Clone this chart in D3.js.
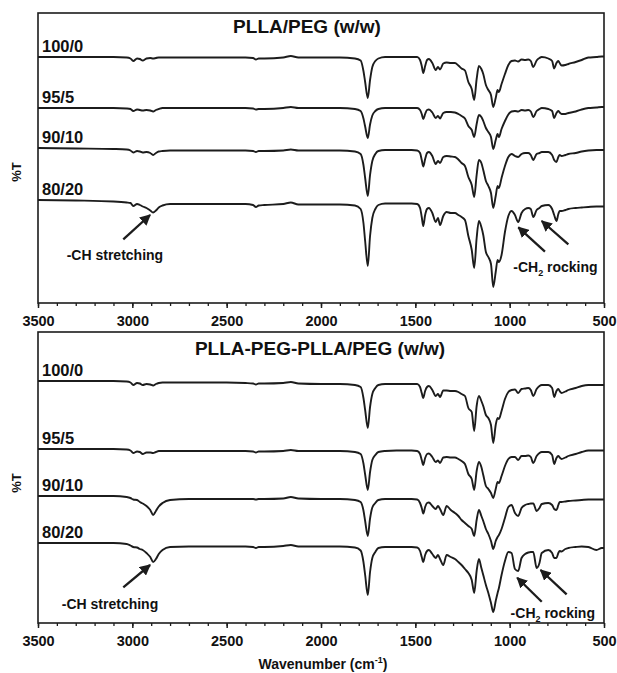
<!DOCTYPE html>
<html>
<head>
<meta charset="utf-8">
<script src="https://cdn.jsdelivr.net/npm/d3@7"></script>
<style>
  body { margin: 0; background: #fff; }
  svg { display: block; }
  text { font-family: "Liberation Sans", Arial, sans-serif; font-weight: bold; fill: #111; }
</style>
</head>
<body>
<svg id="chart" width="617" height="673"></svg>
<script>
// Wavenumber grid (cm-1) shared by every spectrum
const wavenumbers = [
  3500, 3300, 3100, 3030, 3010, 2995, 2975, 2960, 2945, 2925,
  2905, 2890, 2875, 2860, 2840, 2800, 2700, 2500, 2400, 2360,
  2345, 2330, 2300, 2200, 2160, 2120, 2000, 1900, 1820, 1790,
  1775, 1766, 1752, 1740, 1728, 1712, 1696, 1660, 1600, 1520,
  1490, 1475, 1466, 1458, 1448, 1438, 1428, 1410, 1392, 1380,
  1369, 1352, 1334, 1312, 1290, 1272, 1255, 1237, 1219, 1201,
  1188, 1175, 1163, 1150, 1140, 1126, 1113, 1099, 1087, 1074,
  1064, 1057, 1043, 1025, 1007, 990, 972, 955, 937, 918,
  901, 888, 875, 857, 842, 830, 795, 775, 764, 752,
  742, 735, 725, 705, 689, 650, 618, 583, 540, 512,
  500
];

// Relative transmittance (change from each trace's own baseline)
// PLLA/PEG blends
const pllaPeg_100_0 = [
  0, 0, 0, -0.5, -1.5, -4, -1.5, -2, -3.5, -1.5,
  -1, -1.5, -1, -0.5, -0.5, -0.5, -0.5, -0.5, -0.5, -1,
  -2.5, -1.5, -1.5, -0.5, 1, -0.5, -0.5, -0.5, -1.5, -3.5,
  -14, -25, -41, -23, -10, -4, -1.5, 0, 0, 0,
  0, -3, -9, -16, -9, -3, -2, -6, -13, -10,
  -12.5, -6.5, -5.5, -6, -6, -8.5, -11.5, -13.5, -25, -32,
  -43, -22, -9, -12, -17, -28, -33, -38, -50, -41,
  -33, -35, -27, -17, -8, -4, -3.5, -4.5, -2.5, -3,
  -2.5, -4, -10, -3.5, -1, 0, -1.5, -4, -11.5, -6,
  -4, -6, -8.5, -8, -7, -5, -3, -0.5, 0, 0.5,
  0.5
];
const pllaPeg_95_5 = [
  0, 0, 0, -0.5, -1, -3, -1.5, -2, -2.5, -2,
  -2.5, -3.5, -2, -1, 0, 0, 0, 0, 0, -0.5,
  -1.5, -1, -1, 0, 1, 0, 0, 0, -1, -3,
  -10.5, -18.5, -30, -16.5, -7.5, -3, -1, 0, 0, 0,
  0, -2, -6, -11, -6, -2, -1.5, -4.5, -10, -8,
  -10.5, -5, -4, -4, -4.5, -6, -8, -10.5, -18, -22,
  -29, -16, -7, -9, -13, -20, -24, -29, -41, -32,
  -26, -29, -21, -13, -6.5, -3.5, -3, -3.5, -2, -2.5,
  -2, -3.5, -9, -3, -1, 0, -1, -3, -10, -5,
  -3, -4.5, -6, -6, -5, -3.5, -1.5, 0, 0.5, 1,
  1
];
const pllaPeg_90_10 = [
  0, -0.5, -1, -1.5, -2.5, -4.5, -3, -3.5, -4.5, -4,
  -5, -7, -5, -3.5, -3, -2.5, -2.5, -2.5, -2.5, -3,
  -4, -3, -3, -2.5, -1.5, -2.5, -2.5, -2.5, -3.5, -6,
  -17, -30, -48, -27, -13, -6, -3, -2, -2, -2,
  -2.5, -5, -12, -18.5, -11, -5, -4, -8, -16, -13,
  -15, -9, -8, -8.5, -9, -11.5, -15, -18, -29, -37,
  -49, -27, -12, -15, -22, -33, -38, -45, -60, -48,
  -38, -40, -30, -18, -9, -6, -8, -9, -6, -5,
  -5, -7, -12, -6, -5, -4, -4, -7, -12, -14,
  -9, -7, -8, -7, -6, -5, -3.5, -2.5, -2, -2,
  -2
];
const pllaPeg_80_20 = [
  0, -0.5, -1.5, -2.5, -3, -6, -4, -5, -6.5, -8,
  -10.5, -12.5, -10.5, -7.5, -5.5, -4, -4, -4, -4, -5,
  -7, -5.5, -5, -4, -2.5, -4.5, -4.5, -4.5, -5.5, -9,
  -23, -41, -66, -36, -18, -9, -5, -3.5, -3.5, -3.5,
  -4, -8, -17, -26, -15, -9, -8, -13, -22, -18,
  -25, -16, -12, -13, -13, -15, -17, -20, -36, -50,
  -68, -38, -21, -27, -35, -52, -57, -64, -87, -72,
  -60, -62, -55, -32, -16, -11, -15, -22, -13, -9,
  -8, -9, -17, -10, -8, -6, -5, -9, -15, -21,
  -14, -11, -11, -10, -9, -8, -7.5, -7, -6.5, -6.5,
  -6.5
];

// PLLA-PEG-PLLA/PEG blends
const triPeg_100_0 = [
  0, 0, 0, -0.5, -1.5, -4, -2, -2.5, -4, -3,
  -3.5, -4.5, -3, -2, -1.5, -1.5, -1.5, -1.5, -2, -2.5,
  -3.5, -2.5, -2.5, -2, -1, -2.5, -3, -3, -4, -6,
  -17, -29, -47, -26, -13, -7, -4, -3, -3, -3,
  -3, -6, -12, -17, -10, -6, -5, -9, -15, -13,
  -16, -9.5, -9.5, -10, -10, -11, -13, -15, -27, -31,
  -50, -25, -15, -20, -25, -34, -37, -44, -62, -44,
  -37, -38, -30, -18, -11, -9, -8.5, -12, -8, -7.5,
  -7, -9, -15, -8, -5, -4, -4, -7, -16, -10,
  -8, -10, -12, -10.5, -9, -7, -5, -4, -4, -4,
  -4
];
const triPeg_95_5 = [
  0, 0, 0, -0.5, -1.5, -4, -2.5, -3, -5, -3.5,
  -3.5, -4, -3, -2, -2, -2, -2, -2, -2, -2.5,
  -3.5, -2.5, -2.5, -2, -1, -2, -2, -2, -3, -5,
  -14.5, -25.5, -41, -23, -11, -6, -3, -2, -1.5, -1.5,
  -2, -5, -11, -16, -9, -5, -4.5, -8, -13, -11.5,
  -14, -8.5, -8, -8.5, -8.5, -10, -12, -15, -25, -30,
  -41, -22, -13, -18, -26, -37, -40, -44, -49, -40,
  -33, -34, -27, -17, -10, -8, -8, -11, -7, -7,
  -6.5, -8, -14, -7, -4, -3, -3, -6, -15, -9,
  -7, -8.5, -10, -8.5, -7, -5, -3, -1.5, -1.5, -1.5,
  -1.5
];
const triPeg_90_10 = [
  0, 0, 0, -1, -2, -3.5, -4, -6, -7.5, -10,
  -14, -19, -15, -10.5, -7, -4, -3, -3, -3, -3,
  -3.5, -3, -3, -2.5, -1, -2.5, -3, -3, -4, -6,
  -14.5, -25, -40, -22.5, -11.5, -7, -4, -3, -3, -3,
  -3.5, -7, -12, -17.5, -11, -7, -6.5, -10, -13, -10,
  -13, -19, -10, -14, -17, -20, -24, -27, -30, -33,
  -40, -24, -14, -20, -25, -33, -38, -45, -53, -45,
  -41, -39, -33, -22, -11, -9, -17, -20, -12, -9,
  -8, -7.5, -7.5, -15, -12, -8, -7, -9, -13, -14,
  -9, -6, -6, -5.5, -5, -4.5, -4, -3.5, -3.5, -3.5,
  -3.5
];
const triPeg_80_20 = [
  0, 0, 0, -1, -2.5, -4, -4.5, -6, -7, -10,
  -14, -19, -16, -11, -7, -4, -3.5, -3.5, -3.5, -4,
  -5, -4, -4, -3, -2, -3.5, -3.5, -3.5, -4.5, -7.5,
  -19, -32, -52, -29, -15, -9, -5, -4, -4, -4,
  -4.5, -8, -14, -19, -12, -8, -7, -11, -15, -12,
  -16, -22, -12, -14, -16, -19, -22, -26, -30, -37,
  -50, -28, -16, -25, -32, -42, -50, -60, -69, -58,
  -50, -45, -32, -18, -9, -10, -26, -28, -15, -11,
  -9.5, -9, -9, -25, -20, -10, -7, -10, -15, -15,
  -10, -8, -8.5, -6, -5, -4, -3.5, -4, -7, -5,
  -5
];

// Labels and stacking
const blendLabels = ["100/0", "95/5", "90/10", "80/20"];
const pllaPegOffsets = [246, 195, 155, 103];
const triPegOffsets = [242, 174, 127, 80];
const majorTicks = [3500, 3000, 2500, 2000, 1500, 1000, 500];
const minorTicks = d3.range(3500, 499, -100);

const svg = d3.select("#chart");
const ink = "#1c1c1c";

// arrowhead marker
svg.append("defs").append("marker")
  .attr("id", "arrowhead")
  .attr("viewBox", "0 0 10 10")
  .attr("refX", 9).attr("refY", 5)
  .attr("markerUnits", "userSpaceOnUse")
  .attr("markerWidth", 11).attr("markerHeight", 11)
  .attr("orient", "auto")
  .append("path").attr("d", "M0,0 L10,5 L0,10 Z").attr("fill", ink);

const x = d3.scaleLinear().domain([3500, 500]).range([38, 604]);

const panels = [
  {
    title: "PLLA/PEG (w/w)", titleX: 307, titleY: 33,
    top: 13, bottom: 303, yLabel: 172,
    series: [pllaPeg_100_0, pllaPeg_95_5, pllaPeg_90_10, pllaPeg_80_20],
    offsets: pllaPegOffsets,
    stretch: { text: [3348, 43], tail: [3048, 63.7], tip: [2906, 88] },
    rocking: { text: [981, 31], arrows: [[[813, 51.3], [954, 75.7]], [[689, 58.7], [830, 82]]] }
  },
  {
    title: "PLLA-PEG-PLLA/PEG (w/w)", titleX: 320, titleY: 355,
    top: 332, bottom: 623, yLabel: 483,
    series: [triPeg_100_0, triPeg_95_5, triPeg_90_10, triPeg_80_20],
    offsets: triPegOffsets,
    stretch: { text: [3374, 14], tail: [3048, 35.7], tip: [2906, 58] },
    rocking: { text: [995, 5], arrows: [[[830, 21.3], [960, 45.3]], [[698, 28.7], [836, 53]]] }
  }
];

panels.forEach(p => {
  const g = svg.append("g");
  const y = d3.scaleLinear().domain([0, p.bottom - p.top]).range([p.bottom, p.top]);

  // spectra
  p.series.forEach((vals, i) => {
    const pts = wavenumbers.map((w, j) => [w, p.offsets[i] + vals[j]]);
    const line = d3.line().x(d => x(d[0])).y(d => y(d[1])).curve(d3.curveMonotoneX);
    g.append("path").attr("d", line(pts))
      .attr("fill", "none").attr("stroke", ink)
      .attr("stroke-width", 1.9).attr("stroke-linejoin", "round");
    g.append("text")
      .attr("x", x(3479)).attr("y", y(p.offsets[i] + 5))
      .attr("font-size", 16.5).text(blendLabels[i]);
  });

  // frame
  g.append("rect")
    .attr("x", x(3500)).attr("y", p.top)
    .attr("width", x(500) - x(3500)).attr("height", p.bottom - p.top)
    .attr("fill", "none").attr("stroke", ink).attr("stroke-width", 1.6);

  // bottom axis: minor then major ticks
  const minor = g.append("g").attr("transform", `translate(0,${p.bottom})`)
    .call(d3.axisBottom(x).tickValues(minorTicks).tickSize(3).tickFormat(""));
  minor.select(".domain").remove();
  minor.selectAll("line").attr("stroke", ink).attr("stroke-width", 1.3);

  const major = g.append("g").attr("transform", `translate(0,${p.bottom})`)
    .call(d3.axisBottom(x).tickValues(majorTicks).tickSize(5).tickPadding(8).tickFormat(d3.format("d")));
  major.select(".domain").remove();
  major.selectAll("line").attr("stroke", ink).attr("stroke-width", 1.5);
  major.selectAll("text")
    .attr("font-size", 14.5).attr("font-family", "Liberation Sans, Arial, sans-serif")
    .attr("font-weight", "bold").attr("fill", "#111");

  // y-axis label
  g.append("text")
    .attr("transform", `translate(21,${p.yLabel}) rotate(-90)`)
    .attr("text-anchor", "middle").attr("font-size", 13).text("%T");

  // panel title
  g.append("text")
    .attr("x", p.titleX).attr("y", p.titleY)
    .attr("text-anchor", "middle").attr("font-size", 19).text(p.title);

  // -CH stretching annotation
  g.append("line")
    .attr("x1", x(p.stretch.tail[0])).attr("y1", y(p.stretch.tail[1]))
    .attr("x2", x(p.stretch.tip[0])).attr("y2", y(p.stretch.tip[1]))
    .attr("stroke", ink).attr("stroke-width", 2.3).attr("marker-end", "url(#arrowhead)");
  g.append("text")
    .attr("x", x(p.stretch.text[0])).attr("y", y(p.stretch.text[1]))
    .attr("font-size", 14).text("-CH stretching");

  // -CH2 rocking annotation
  p.rocking.arrows.forEach(([tail, tip]) => {
    g.append("line")
      .attr("x1", x(tail[0])).attr("y1", y(tail[1]))
      .attr("x2", x(tip[0])).attr("y2", y(tip[1]))
      .attr("stroke", ink).attr("stroke-width", 2.3).attr("marker-end", "url(#arrowhead)");
  });
  const rt = g.append("text")
    .attr("x", x(p.rocking.text[0])).attr("y", y(p.rocking.text[1]))
    .attr("font-size", 14);
  rt.append("tspan").text("-CH");
  rt.append("tspan").attr("font-size", 9).attr("dy", 4).text("2");
  rt.append("tspan").attr("dy", -4).text(" rocking");
});

// x-axis title
const xt = svg.append("text")
  .attr("x", 323).attr("y", 669).attr("text-anchor", "middle").attr("font-size", 14);
xt.append("tspan").text("Wavenumber (cm");
xt.append("tspan").attr("font-size", 9).attr("dy", -6).text("-1");
xt.append("tspan").attr("dy", 6).text(")");
</script>
</body>
</html>
